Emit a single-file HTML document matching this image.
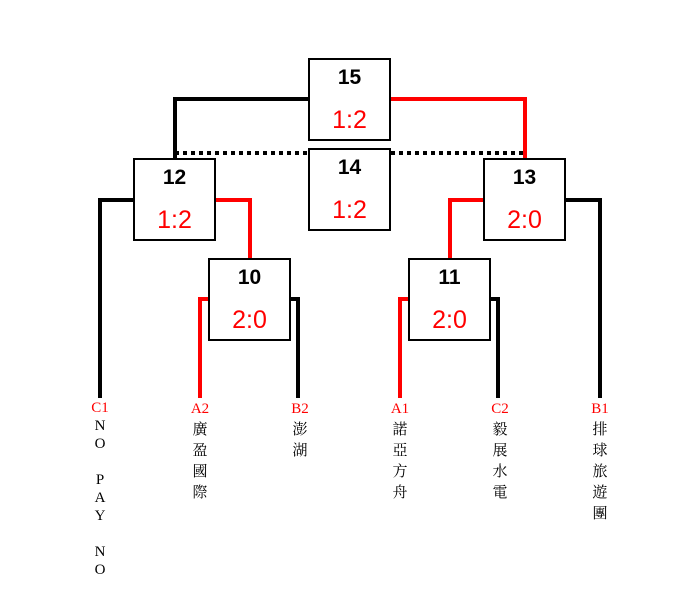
<!DOCTYPE html>
<html><head><meta charset="utf-8"><style>
body{margin:0;background:#fff;width:700px;height:600px;overflow:hidden;position:relative;font-family:"Liberation Sans","Noto Sans CJK TC",sans-serif}
.b{position:absolute;width:79px;height:79px;border:2px solid #000;background:#fff;text-align:center}
.n{position:absolute;top:6px;left:0;right:0;font-size:21px;font-weight:bold;line-height:24px}
.s{position:absolute;top:46px;left:0;right:0;font-size:25px;color:#f00;line-height:28px}
.l{position:absolute;background:#000}.r{background:#f00}
.t{position:absolute;width:30px;text-align:center;font-family:"Liberation Serif","Noto Serif CJK SC",serif;font-size:15px;line-height:21px;top:399px}
.t span{color:#f00}
</style></head><body>
<div class="l" style="left:173px;top:97px;width:137px;height:4px"></div>
<div class="l" style="left:173px;top:97px;width:4px;height:62px"></div>
<div class="l r" style="left:390px;top:97px;width:137px;height:4px"></div>
<div class="l r" style="left:523px;top:97px;width:4px;height:62px"></div>
<div style="position:absolute;left:175px;top:151px;width:350px;height:4px;background:repeating-linear-gradient(90deg,#000 0 4px,transparent 4px 8px)"></div>
<div class="l" style="left:98px;top:198px;width:37px;height:4px"></div>
<div class="l" style="left:98px;top:198px;width:4px;height:200px"></div>
<div class="l r" style="left:215px;top:198px;width:37px;height:4px"></div>
<div class="l r" style="left:248px;top:198px;width:4px;height:61px"></div>
<div class="l r" style="left:448px;top:198px;width:37px;height:4px"></div>
<div class="l r" style="left:448px;top:198px;width:4px;height:61px"></div>
<div class="l" style="left:565px;top:198px;width:37px;height:4px"></div>
<div class="l" style="left:598px;top:198px;width:4px;height:200px"></div>
<div class="l r" style="left:198px;top:297px;width:12px;height:4px"></div>
<div class="l r" style="left:198px;top:297px;width:4px;height:101px"></div>
<div class="l" style="left:290px;top:297px;width:10px;height:4px"></div>
<div class="l" style="left:296px;top:297px;width:4px;height:101px"></div>
<div class="l r" style="left:398px;top:297px;width:12px;height:4px"></div>
<div class="l r" style="left:398px;top:297px;width:4px;height:101px"></div>
<div class="l" style="left:490px;top:297px;width:10px;height:4px"></div>
<div class="l" style="left:496px;top:297px;width:4px;height:101px"></div>
<div class="b" style="left:308px;top:58px"><div class="n">15</div><div class="s">1:2</div></div>
<div class="b" style="left:308px;top:148px"><div class="n">14</div><div class="s">1:2</div></div>
<div class="b" style="left:133px;top:158px"><div class="n">12</div><div class="s">1:2</div></div>
<div class="b" style="left:483px;top:158px"><div class="n">13</div><div class="s">2:0</div></div>
<div class="b" style="left:208px;top:258px"><div class="n">10</div><div class="s">2:0</div></div>
<div class="b" style="left:408px;top:258px"><div class="n">11</div><div class="s">2:0</div></div>
<div class="t" style="left:85px;line-height:18px"><span>C1</span><br>N<br>O<br>&nbsp;<br>P<br>A<br>Y<br>&nbsp;<br>N<br>O</div>
<div class="t" style="left:185px"><span>A2</span><br>廣<br>盈<br>國<br>際</div>
<div class="t" style="left:285px"><span>B2</span><br>澎<br>湖</div>
<div class="t" style="left:385px"><span>A1</span><br>諾<br>亞<br>方<br>舟</div>
<div class="t" style="left:485px"><span>C2</span><br>毅<br>展<br>水<br>電</div>
<div class="t" style="left:585px"><span>B1</span><br>排<br>球<br>旅<br>遊<br>團</div>
</body></html>
